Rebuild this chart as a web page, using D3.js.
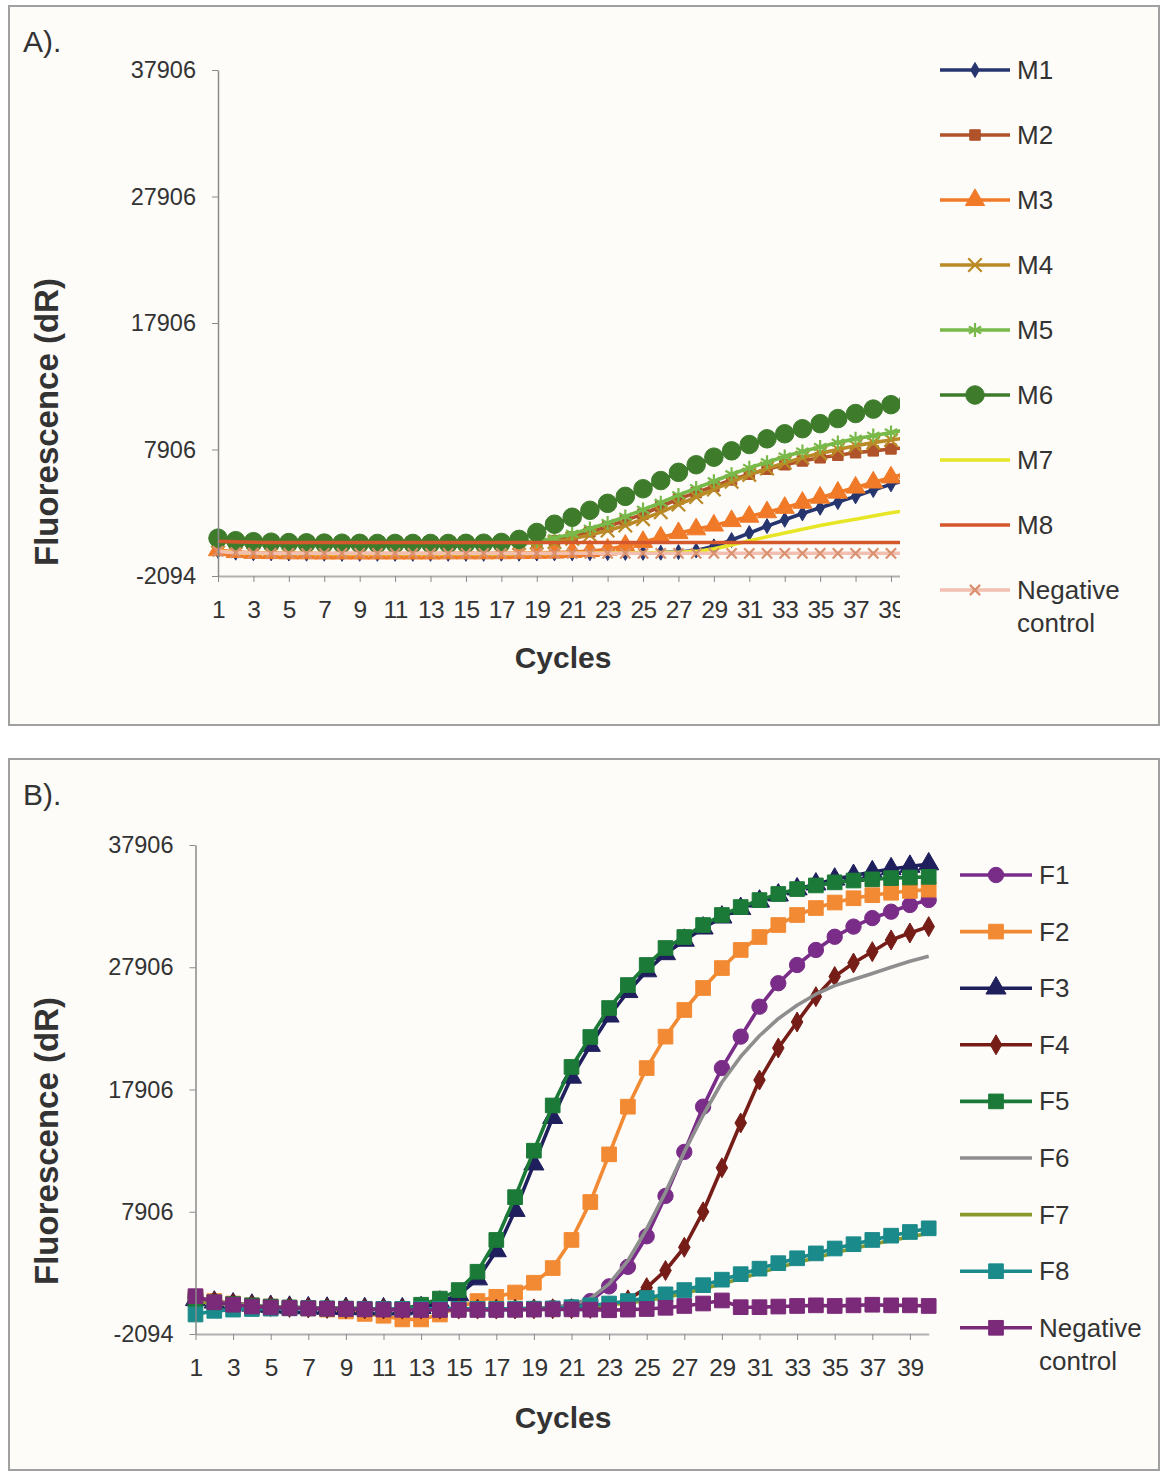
<!DOCTYPE html>
<html><head><meta charset="utf-8">
<script src="https://cdn.jsdelivr.net/npm/d3@7"></script>
<style>
body{margin:0;background:#fff}
text{font-family:"Liberation Sans",Arial,sans-serif;fill:#333}
</style>
</head><body>
<svg id="chart" width="1161" height="1472"></svg>
<script>
// ---------- data ----------
const cycles = [1,2,3,4,5,6,7,8,9,10,11,12,13,14,15,16,17,18,19,20,21,22,23,24,25,26,27,28,29,30,31,32,33,34,35,36,37,38,39,40];
const yTickValues = [-2094,7906,17906,27906,37906];
const xTickLabels = [1,3,5,7,9,11,13,15,17,19,21,23,25,27,29,31,33,35,37,39];

const seriesNamesA = ["M1","M2","M3","M4","M5","M6","M7","M8","Negative control"];
const M1 = [-100,-250,-300,-300,-320,-330,-330,-340,-340,-340,-340,-340,-340,-340,-340,-340,-330,-330,-320,-310,-300,-290,-280,-270,-260,-250,-200,-80,250,750,1300,1850,2350,2850,3300,3750,4200,4700,5150,5550];
const M2 = [800,650,580,550,530,520,510,500,500,500,500,500,500,500,500,500,510,530,580,700,1000,1400,1800,2300,2800,3400,4000,4500,5000,5500,5950,6350,6700,7000,7250,7450,7650,7800,7950,8050];
const M3 = [-50,-200,-260,-280,-300,-300,-310,-310,-310,-310,-310,-310,-310,-300,-300,-300,-290,-280,-260,-240,-200,-120,0,300,600,950,1300,1600,1900,2250,2600,2950,3300,3700,4100,4500,4900,5300,5700,6050];
const M4 = [700,600,550,520,500,490,480,480,480,480,480,480,480,480,480,480,490,510,550,600,850,1150,1500,1900,2400,2950,3550,4150,4750,5350,5900,6400,6850,7250,7600,7900,8200,8450,8650,8850];
const M5 = [750,620,560,530,510,500,490,490,490,490,490,490,490,490,490,500,520,560,650,900,1250,1650,2100,2600,3150,3700,4300,4850,5400,5950,6450,6900,7350,7750,8100,8450,8750,9000,9250,9500];
const M6 = [900,700,620,580,550,530,510,500,490,480,480,480,480,480,490,500,560,800,1350,2000,2550,3100,3650,4200,4800,5450,6100,6700,7300,7800,8300,8750,9150,9550,9950,10350,10750,11100,11450,11750];
const M7 = [-100,-250,-300,-310,-320,-320,-330,-330,-330,-330,-330,-330,-330,-330,-330,-330,-330,-320,-320,-310,-300,-290,-280,-270,-260,-250,-230,-150,50,350,700,1000,1300,1600,1900,2150,2400,2650,2900,3100];
const M8 = [650,600,570,560,550,550,550,550,550,550,550,550,550,550,550,550,550,550,550,550,550,550,550,550,550,550,550,560,560,560,560,560,560,560,560,560,560,560,560,560];
const NegA = [-150,-250,-280,-300,-300,-300,-300,-300,-300,-300,-300,-300,-300,-300,-300,-300,-300,-300,-300,-300,-300,-300,-300,-300,-300,-300,-300,-300,-300,-300,-300,-300,-300,-300,-300,-300,-300,-300,-300,-300];

const seriesNamesB = ["F1","F2","F3","F4","F5","F6","F7","F8","Negative control"];
const F1 = [900,600,400,250,150,80,30,0,-20,-40,-50,-60,-60,-60,-60,-60,-50,-40,-20,20,100,600,1800,3400,5900,9200,12800,16500,19660,22230,24680,26600,28090,29320,30400,31230,31930,32450,33000,33410];
const F2 = [850,600,400,250,150,50,0,-100,-250,-450,-600,-900,-900,-500,100,600,950,1300,2100,3300,5600,8700,12600,16500,19660,22230,24410,26210,27840,29320,30380,31360,32180,32750,33200,33550,33800,34000,34150,34250];
const F3 = [700,500,350,250,150,80,30,0,-20,-40,-50,-50,50,500,1100,2400,4700,8000,11800,15600,18900,21500,23900,25900,27600,29000,30100,31100,32000,32700,33300,33800,34300,34700,35100,35400,35700,35950,36150,36350];
const F4 = [800,550,380,250,150,80,30,0,-20,-40,-50,-60,-60,-60,-60,-60,-60,-50,-40,-30,-20,0,200,700,1700,3100,5000,7900,11500,15170,18680,21300,23430,25500,27150,28250,29180,30140,30710,31230];
const F5 = [700,500,350,250,150,80,30,0,-20,-40,-50,-50,300,800,1500,3000,5600,9100,12900,16600,19750,22200,24570,26450,28090,29480,30380,31360,32180,32830,33400,33900,34300,34600,34850,35000,35100,35200,35250,35300];
const F6 = [700,500,350,250,150,80,30,0,-20,-40,-50,-60,-60,-60,-60,-50,-40,-20,0,100,300,800,2000,3900,6500,9500,12800,15800,18500,20600,22300,23700,24800,25700,26400,26900,27400,27900,28400,28800];
const F7 = [600,400,300,200,120,60,20,0,-20,-30,-40,-40,-40,-40,-40,-40,-40,-30,-20,0,50,150,300,450,650,900,1250,1600,2000,2450,2900,3350,3750,4150,4550,4900,5250,5550,5850,6150];
const F8 = [-500,-200,-100,-50,-20,0,0,-10,-20,-30,-40,-40,-40,-40,-40,-40,-40,-30,-20,0,100,250,400,600,850,1150,1500,1900,2350,2800,3250,3700,4100,4500,4900,5250,5600,5950,6250,6550];
const NegB = [1000,500,300,150,80,30,0,-30,-50,-80,-100,-120,-130,-130,-130,-130,-130,-120,-100,-80,-80,-100,-150,-100,-50,50,200,400,650,100,100,150,200,250,200,250,300,250,250,200];

// ---------- styles ----------
const stylesA = [
  {c:"#27356f", sym:d3.symbolDiamond, size:65, fill:true},
  {c:"#b0522a", sym:d3.symbolSquare, size:110, fill:true},
  {c:"#f07a28", sym:d3.symbolTriangle, size:160, fill:true},
  {c:"#b98a26", sym:d3.symbolTimes, size:120, fill:false},
  {c:"#78b94a", sym:d3.symbolAsterisk, size:140, fill:false},
  {c:"#3e7c2c", sym:d3.symbolCircle, size:270, fill:true},
  {c:"#e6e626", sym:null},
  {c:"#d4582c", sym:null},
  {c:"#f2bfb0", sym:d3.symbolTimes, size:70, fill:false, mc:"#d9906f"}
];
const stylesB = [
  {c:"#7a2d88", sym:d3.symbolCircle, size:185, fill:true},
  {c:"#f28a33", sym:d3.symbolSquare, size:215, fill:true},
  {c:"#1e1f5c", sym:d3.symbolTriangle, size:175, fill:true},
  {c:"#761d18", sym:d3.symbolDiamond, size:115, fill:true},
  {c:"#1c7a38", sym:d3.symbolSquare, size:215, fill:true},
  {c:"#8e8e8e", sym:null},
  {c:"#8a9a2c", sym:null},
  {c:"#1b8a8a", sym:d3.symbolSquare, size:215, fill:true},
  {c:"#7a2a78", sym:d3.symbolSquare, size:215, fill:true}
];

const svg = d3.select("#chart");
const defs = svg.append("defs");

function drawPanel(p){
  const g = svg.append("g");
  g.append("rect").attr("x",p.bx).attr("y",p.by).attr("width",p.bw).attr("height",p.bh)
    .attr("fill","#fdfcf9").attr("stroke","#a0a0a0").attr("stroke-width",2);
  g.append("text").attr("x",p.bx+14).attr("y",p.by+46).attr("font-size",30).text(p.label);

  const x = d3.scaleLinear().domain([1,40]).range([p.x0, p.x0+39*p.step]);
  const y = d3.scaleLinear().domain([-2094,37906]).range([p.yb, p.yt]);

  defs.append("clipPath").attr("id","clip"+p.id).append("rect")
    .attr("x",0).attr("y",0).attr("width",p.clipX).attr("height",1472);
  const cg = g.append("g").attr("clip-path","url(#clip"+p.id+")");

  // y axis
  const ya = g.append("g").attr("transform",`translate(${p.x0},0)`)
    .call(d3.axisLeft(y).tickValues(yTickValues).tickSize(6).tickSizeOuter(0).tickPadding(16).tickFormat(d=>String(d)));
  ya.select(".domain").attr("stroke","#8a8a8a").attr("stroke-width",1.5);
  ya.selectAll(".tick line").attr("stroke","#8a8a8a");
  ya.selectAll(".tick text").attr("font-size",23.5).attr("fill","#333").style("font-family","'Liberation Sans',Arial,sans-serif");

  // x axis
  const xa = cg.append("g").attr("transform",`translate(0,${p.yb})`)
    .call(d3.axisBottom(x).tickValues(xTickLabels).tickSize(6).tickSizeOuter(0).tickPadding(19));
  xa.select(".domain").attr("stroke","#b0b0b0").attr("stroke-width",2);
  xa.selectAll(".tick line").attr("stroke","#8a8a8a");
  xa.selectAll(".tick text").attr("font-size",p.xfs).attr("fill","#333").attr("letter-spacing",-0.5)
    .style("font-family","'Liberation Sans',Arial,sans-serif");

  const line = d3.line().x((d,i)=>x(cycles[i])).y(d=>y(d));
  p.series.forEach((s,k)=>{
    const st = p.styles[k];
    cg.append("path").datum(s).attr("d",line).attr("fill","none")
      .attr("stroke",st.c).attr("stroke-width",3.6).attr("stroke-linejoin","round");
    if(st.sym){
      const sp = d3.symbol().type(st.sym).size(st.size)();
      const mc = st.mc || st.c;
      cg.append("g").selectAll("path").data(s).join("path")
        .attr("d",sp)
        .attr("transform",(d,i)=>`translate(${x(cycles[i])},${y(d)})`)
        .attr("fill",st.fill?mc:"none").attr("stroke",mc).attr("stroke-width",st.fill?1:2.2);
    }
  });

  // axis titles
  g.append("text").attr("transform",`translate(${p.ytx},${p.yty}) rotate(-90)`)
    .attr("text-anchor","middle").attr("font-size",33).attr("font-weight","bold").text("Fluorescence (dR)");
  g.append("text").attr("x",p.xtx).attr("y",p.xty).attr("text-anchor","middle")
    .attr("font-size",30).attr("font-weight","bold").text("Cycles");

  // legend
  p.names.forEach((n,k)=>{
    const st = p.styles[k];
    const ly = p.ly0 + k*p.lstep;
    g.append("line").attr("x1",p.lx1).attr("x2",p.lx2).attr("y1",ly).attr("y2",ly)
      .attr("stroke",st.c).attr("stroke-width",3.6);
    if(st.sym){
      const mc = st.mc || st.c;
      g.append("path").attr("d",d3.symbol().type(st.sym).size(st.size)())
        .attr("transform",`translate(${(p.lx1+p.lx2)/2},${ly})`)
        .attr("fill",st.fill?mc:"none").attr("stroke",mc).attr("stroke-width",st.fill?1:2.2);
    }
    const t = g.append("text").attr("x",p.lx2+7).attr("y",ly+9).attr("font-size",26);
    if(n==="Negative control"){
      t.append("tspan").attr("x",p.lx2+7).text("Negative");
      t.append("tspan").attr("x",p.lx2+7).attr("dy",33).text("control");
    } else t.text(n);
  });
}

drawPanel({id:"A", label:"A).", bx:9, by:6, bw:1150, bh:719,
  x0:218, step:17.71, yt:70, yb:576, clipX:900, xfs:24.5,
  series:[M1,M2,M3,M4,M5,M6,M7,M8,NegA], styles:stylesA, names:seriesNamesA,
  ytx:58, yty:422, xtx:563, xty:668,
  lx1:940, lx2:1010, ly0:70, lstep:65});

drawPanel({id:"B", label:"B).", bx:9, by:759, bw:1150, bh:711,
  x0:195.5, step:18.8, yt:845, yb:1334, clipX:1161, xfs:24.5,
  series:[F1,F2,F3,F4,F5,F6,F7,F8,NegB], styles:stylesB, names:seriesNamesB,
  ytx:58, yty:1141, xtx:563, xty:1428,
  lx1:960, lx2:1032, ly0:875, lstep:56.6});
</script>
</body></html>
